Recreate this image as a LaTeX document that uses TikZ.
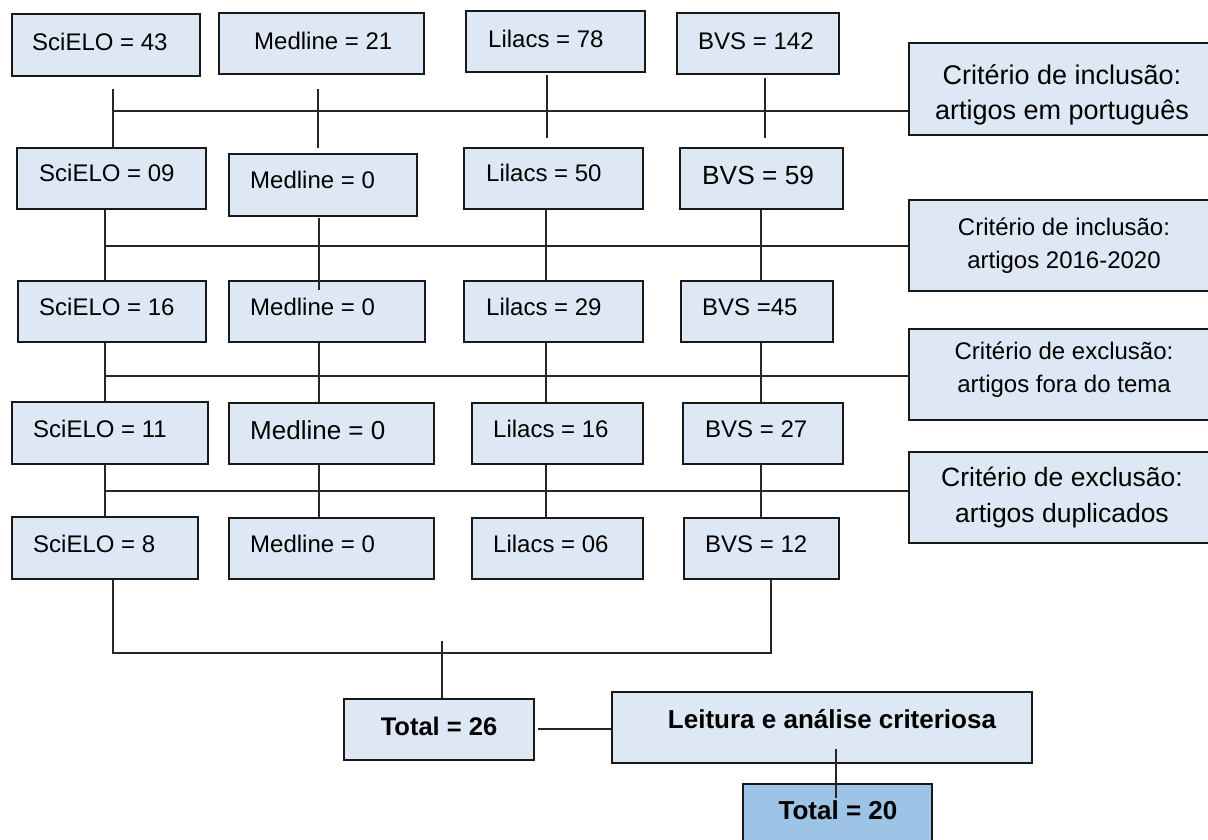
\documentclass[tikz,border=0pt]{standalone}
\usepackage{fontspec}
\setmainfont{Liberation Sans}
\definecolor{boxfill}{HTML}{DEE8F4}
\definecolor{darkfill}{HTML}{9DC3E6}
\tikzset{
  dbox/.style={draw=black!90, line width=1.6pt, fill=boxfill, inner sep=0pt},
  dtxt/.style={inner sep=0pt, font=\fontsize{24}{28}\selectfont},
  ctxt/.style={inner sep=0pt, align=center},
  conn/.style={draw=black!85, line width=1.2pt},
}
\newcommand\dbx[8]{%
  \node[dbox, minimum width={(#4)-(#2)}, minimum height={(#5)-(#3)}] (#1) at ({((#2)+(#4))/2},{((#3)+(#5))/2}) {};
  \node[dtxt, anchor=base west] (#1t) at (#6,#7) {#8};}
\begin{document}
\begin{tikzpicture}[x=1pt,y=-1pt]
\useasboundingbox (0,0) rectangle (1208,840);
\clip (0,0) rectangle (1208,840);
% row 1
\dbx{s1}{12}{14}{200}{76}{32}{51}{SciELO = 43}
\dbx{m1}{219}{13}{424}{74}{254}{50}{Medline = 21}
\dbx{l1}{466}{11}{645}{72}{488}{48}{Lilacs = 78}
\dbx{b1}{677}{13}{839}{74}{698}{50}{BVS = 142}
% row 2
\dbx{s2}{17}{148}{206}{209}{39}{182}{SciELO = 09}
\dbx{m2}{229}{154}{417}{216}{250}{189}{Medline = 0}
\dbx{l2}{464}{148}{643}{209}{486}{182}{Lilacs = 50}
\dbx{b2}{680}{148}{843}{209}{702}{185}{\fontsize{26.3}{30}\selectfont BVS = 59}
% row 3
\dbx{s3}{18}{281}{206}{342}{39}{315}{SciELO = 16}
\dbx{m3}{229}{281}{425}{342}{250}{315}{Medline = 0}
\dbx{l3}{464}{281}{643}{342}{486}{315}{Lilacs = 29}
\dbx{b3}{681}{281}{833}{342}{702}{315}{BVS =45}
% row 4
\dbx{s4}{12}{402}{208}{464}{33}{437}{SciELO = 11}
\dbx{m4}{229}{403}{434}{464}{250}{439}{\fontsize{26}{30}\selectfont Medline = 0}
\dbx{l4}{472}{403}{643}{464}{493}{437}{Lilacs = 16}
\dbx{b4}{683}{403}{843}{464}{705}{437}{BVS = 27}
% row 5
\dbx{s5}{12}{517}{198}{579}{33}{552}{SciELO = 8}
\dbx{m5}{229}{518}{434}{579}{250}{552}{Medline = 0}
\dbx{l5}{472}{518}{643}{579}{493}{552}{Lilacs = 06}
\dbx{b5}{684}{518}{839}{579}{705}{552}{BVS = 12}
% criteria
\node[dbox, minimum width=306, minimum height=92] (c1) at (1062,89) {};
\node[ctxt, font=\fontsize{27}{35}\selectfont] (c1t) at (1062,95) {Critério de inclusão:\\artigos em português};
\node[dbox, minimum width=306, minimum height=91] (c2) at (1062,245.5) {};
\node[ctxt, font=\fontsize{24}{33}\selectfont] (c2t) at (1064,246) {Critério de inclusão:\\artigos 2016-2020};
\node[dbox, minimum width=306, minimum height=91] (c3) at (1062,374.5) {};
\node[ctxt, font=\fontsize{24}{33}\selectfont] (c3t) at (1064,370) {Critério de exclusão:\\artigos fora do tema};
\node[dbox, minimum width=306, minimum height=91] (c4) at (1062,497.5) {};
\node[ctxt, font=\fontsize{26.5}{36}\selectfont] (c4t) at (1062,497) {Critério de exclusão:\\artigos duplicados};
% totals
\node[dbox, minimum width=190, minimum height=61] (t26) at (439,729.5) {};
\node[ctxt, anchor=base, font=\bfseries\fontsize{25.5}{30}\selectfont] (t26t) at (439,735) {Total = 26};
\node[dbox, minimum width=420, minimum height=71] (lei) at (822,727.5) {};
\node[ctxt, anchor=base, font=\bfseries\fontsize{26}{30}\selectfont] (leit) at (832,728) {Leitura e análise criteriosa};
\node[dbox, fill=darkfill, minimum width=189, minimum height=76] (t20) at (837.5,822) {};
\node[ctxt, anchor=base, font=\bfseries\fontsize{26}{30}\selectfont] (t20t) at (838,819) {Total = 20};
% stage 1 connectors
\coordinate (p1s) at (113,89); \coordinate (p1m) at (318,89);
\coordinate (p1l) at (547,75); \coordinate (p1b) at (765,78);
\coordinate (q1m) at (318,148); \coordinate (q1l) at (547,138); \coordinate (q1b) at (765,138);
\coordinate (h1) at (113,111);
\draw[conn] (p1s) -- (s2.north -| p1s);
\draw[conn] (p1m) -- (q1m);
\draw[conn] (p1l) -- (q1l);
\draw[conn] (p1b) -- (q1b);
\draw[conn] (h1) -- (h1 -| c1.west);
% stage 2
\coordinate (h2) at (105,246); \coordinate (v2m) at (319,218); \coordinate (w2m) at (319,290);
\coordinate (v2l) at (546,246); \coordinate (v2b) at (761,246);
\draw[conn] (s2.south -| h2) -- (s3.north -| h2);
\draw[conn] (v2m) -- (w2m);
\draw[conn] (l2.south -| v2l) -- (l3.north -| v2l);
\draw[conn] (b2.south -| v2b) -- (b3.north -| v2b);
\draw[conn] (h2) -- (h2 -| c2.west);
% stage 3
\coordinate (h3) at (105,376); \coordinate (v3m) at (319,376);
\draw[conn] (s3.south -| h3) -- (s4.north -| h3);
\draw[conn] (m3.south -| v3m) -- (m4.north -| v3m);
\draw[conn] (l3.south -| v2l) -- (l4.north -| v2l);
\draw[conn] (b3.south -| v2b) -- (b4.north -| v2b);
\draw[conn] (h3) -- (h3 -| c3.west);
% stage 4
\coordinate (h4) at (105,491);
\draw[conn] (s4.south -| h4) -- (s5.north -| h4);
\draw[conn] (m4.south -| v3m) -- (m5.north -| v3m);
\draw[conn] (l4.south -| v2l) -- (l5.north -| v2l);
\draw[conn] (b4.south -| v2b) -- (b5.north -| v2b);
\draw[conn] (h4) -- (h4 -| c4.west);
% final
\coordinate (h5a) at (113,653); \coordinate (h5b) at (771,653);
\draw[conn] (s5.south -| h5a) -- (h5a) -- (h5b) -- (b5.south -| h5b);
\coordinate (t1) at (442,641);
\draw[conn] (t1) -- (t26.north -| t1);
\coordinate (k1) at (538,729);
\draw[conn] (k1) -- (k1 -| lei.west);
\coordinate (u1) at (836,749); \coordinate (u2) at (836,798);
\draw[conn] (u1) -- (u2);
\end{tikzpicture}
\end{document}
